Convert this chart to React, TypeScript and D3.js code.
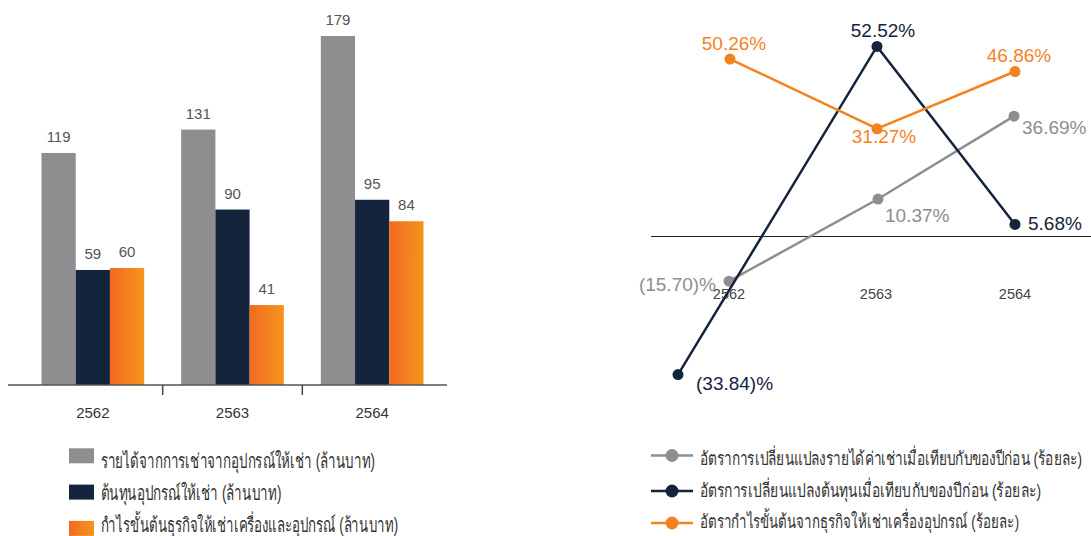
import * as d3 from "d3";
import { useEffect, useRef } from "react";

const years = ["2562", "2563", "2564"];
const barSeries = [
  "รายได้จากการเช่าจากอุปกรณ์ให้เช่า (ล้านบาท)",
  "ต้นทุนอุปกรณ์ให้เช่า (ล้านบาท)",
  "กำไรขั้นต้นธุรกิจให้เช่าเครื่องและอุปกรณ์ (ล้านบาท)",
];
const revenue = [119, 131, 179];
const cost = [59, 90, 95];
const grossProfit = [60, 41, 84];

const lineSeries = [
  "อัตราการเปลี่ยนแปลงรายได้ค่าเช่าเมื่อเทียบกับของปีก่อน (ร้อยละ)",
  "อัตรการเปลี่ยนแปลงต้นทุนเมื่อเทียบกับของปีก่อน (ร้อยละ)",
  "อัตรากำไรขั้นต้นจากธุรกิจให้เช่าเครื่องอุปกรณ์ (ร้อยละ)",
];
const revenueChange = [-15.7, 10.37, 36.69];
const costChange = [-33.84, 52.52, 5.68];
const grossMargin = [50.26, 31.27, 46.86];

const GRAY = "#8e8e90";
const NAVY = "#14243d";
const ORANGE = "#f5821f";
const FONT = "Liberation Sans, Arial, sans-serif";

const fmtPct = (v: number) =>
  v < 0 ? `(${Math.abs(v).toFixed(2)})%` : `${v.toFixed(2)}%`;

// squeeze a text horizontally so it spans `width` px
function fitText(
  sel: d3.Selection<SVGTextElement, any, any, any>,
  x: number,
  y: (i: number) => number,
  widths: number[]
) {
  sel.each(function (_, i) {
    const w = this.getComputedTextLength() || widths[i];
    d3.select(this).attr(
      "transform",
      `translate(${x},${y(i)}) scale(${widths[i] / w},1)`
    );
  });
}

export default function App() {
  const ref = useRef<SVGSVGElement | null>(null);

  useEffect(() => {
    if (!ref.current) return;
    const svg = d3.select(ref.current);
    svg.selectAll("*").remove();

    const defs = svg.append("defs");
    const grad = defs
      .append("linearGradient")
      .attr("id", "orangeGrad")
      .attr("x1", "0%")
      .attr("x2", "100%");
    grad.append("stop").attr("offset", "0%").attr("stop-color", "#f06a21");
    grad.append("stop").attr("offset", "100%").attr("stop-color", "#f7941d");

    // ---------- bar chart ----------
    const barColors = [GRAY, NAVY, "url(#orangeGrad)"];
    const barData = years.map((y, i) => ({
      year: y,
      values: [revenue[i], cost[i], grossProfit[i]],
    }));

    const x0 = d3.scaleBand().domain(years).range([23, 442]);
    const x1 = d3
      .scaleBand()
      .domain(["0", "1", "2"])
      .range([0, x0.bandwidth()])
      .paddingOuter(0.54);
    const yb = d3.scaleLinear().domain([0, 179]).range([385, 36]);

    const groups = svg
      .append("g")
      .selectAll("g")
      .data(barData)
      .join("g")
      .attr("transform", (d) => `translate(${x0(d.year)},0)`);

    groups
      .selectAll("rect")
      .data((d) => d.values)
      .join("rect")
      .attr("x", (_, i) => x1(String(i))!)
      .attr("y", (d) => yb(d))
      .attr("width", x1.bandwidth())
      .attr("height", (d) => yb(0) - yb(d))
      .attr("fill", (_, i) => barColors[i]);

    groups
      .selectAll("text")
      .data((d) => d.values)
      .join("text")
      .attr("x", (_, i) => x1(String(i))! + x1.bandwidth() / 2)
      .attr("y", (d) => yb(d) - 11)
      .attr("text-anchor", "middle")
      .attr("font-family", FONT)
      .attr("font-size", 15)
      .attr("fill", "#555")
      .text((d) => d);

    // axis
    svg
      .append("line")
      .attr("x1", 8)
      .attr("x2", 447)
      .attr("y1", 385)
      .attr("y2", 385)
      .attr("stroke", "#555")
      .attr("stroke-width", 1.5);
    svg
      .append("g")
      .selectAll("line")
      .data(years.slice(1))
      .join("line")
      .attr("x1", (d) => x0(d)!)
      .attr("x2", (d) => x0(d)!)
      .attr("y1", 385)
      .attr("y2", 395)
      .attr("stroke", "#444")
      .attr("stroke-width", 1.5);
    svg
      .append("g")
      .selectAll("text")
      .data(years)
      .join("text")
      .attr("x", (d) => x0(d)! + x0.bandwidth() / 2)
      .attr("y", 418)
      .attr("text-anchor", "middle")
      .attr("font-family", FONT)
      .attr("font-size", 15)
      .attr("fill", "#333")
      .text((d) => d);

    // bar legend
    const barLegendWidths = [273, 181, 298];
    const bl = svg.append("g");
    bl.selectAll("rect")
      .data(barSeries)
      .join("rect")
      .attr("x", 69)
      .attr("y", (_, i) => 448.3 + i * 36.3)
      .attr("width", 25)
      .attr("height", 15)
      .attr("fill", (_, i) => barColors[i]);
    const blText = bl
      .selectAll("text")
      .data(barSeries)
      .join("text")
      .attr("font-family", FONT)
      .attr("font-size", 20)
      .attr("fill", "#333")
      .text((d) => d);
    fitText(blText as any, 100.5, (i) => 467.5 + i * 32, barLegendWidths);

    // ---------- line chart ----------
    // each series sits on its own x/y mapping, as in the source graphic
    const makeX = (r: number[]) =>
      d3.scaleLinear().domain([0, 1, 2]).range(r);
    const makeY = (zero: number, perUnit: number) =>
      d3
        .scaleLinear()
        .domain([-40, 60])
        .range([zero + 40 * perUnit, zero - 60 * perUnit]);

    const zeroY = 236.5;
    svg
      .append("line")
      .attr("x1", 651)
      .attr("x2", 1091)
      .attr("y1", zeroY)
      .attr("y2", zeroY)
      .attr("stroke", "#222")
      .attr("stroke-width", 1.2);

    const xCat = makeX([729, 876, 1015]);
    svg
      .append("g")
      .selectAll("text")
      .data(years)
      .join("text")
      .attr("x", (_, i) => xCat(i))
      .attr("y", 299)
      .attr("text-anchor", "middle")
      .attr("font-family", FONT)
      .attr("font-size", 14.5)
      .attr("fill", "#444")
      .text((d) => d);

    const lines = [
      {
        name: lineSeries[0],
        color: GRAY,
        values: revenueChange,
        x: makeX([729, 878, 1014]),
        y: makeY(231.7, 3.15),
        // [dx, dy, anchor] per point
        labels: [
          [-13, 10, "end"],
          [7, 23, "start"],
          [8, 18, "start"],
        ],
      },
      {
        name: lineSeries[1],
        color: NAVY,
        values: costChange,
        x: makeX([678, 877, 1015]),
        y: makeY(246, 3.8),
        labels: [
          [18, 15, "start"],
          [6, -9, "middle"],
          [13, 6, "start"],
        ],
      },
      {
        name: lineSeries[2],
        color: ORANGE,
        values: grossMargin,
        x: makeX([730, 877, 1015]),
        y: makeY(243.5, 3.67),
        labels: [
          [4, -9, "middle"],
          [7, 14, "middle"],
          [4, -10, "middle"],
        ],
      },
    ];

    lines.forEach((s) => {
      const g = svg.append("g");
      const line = d3
        .line<number>()
        .x((_, i) => s.x(i))
        .y((d) => s.y(d));
      g.append("path")
        .attr("d", line(s.values)!)
        .attr("fill", "none")
        .attr("stroke", s.color)
        .attr("stroke-width", 2.5);
      g.selectAll("circle")
        .data(s.values)
        .join("circle")
        .attr("cx", (_, i) => s.x(i))
        .attr("cy", (d) => s.y(d))
        .attr("r", 5.5)
        .attr("fill", s.color);
      g.selectAll("text")
        .data(s.values)
        .join("text")
        .attr("x", (_, i) => s.x(i) + (s.labels[i][0] as number))
        .attr("y", (d, i) => s.y(d) + (s.labels[i][1] as number))
        .attr("text-anchor", (_, i) => s.labels[i][2] as string)
        .attr("font-family", FONT)
        .attr("font-size", 19)
        .attr("fill", s.color)
        .text((d) => fmtPct(d));
    });

    // line legend
    const lineLegendWidths = [383, 338, 318];
    const markerY = [455.5, 491, 523];
    const textY = [465, 497, 527.5];
    const ll = svg.append("g");
    const items = ll
      .selectAll("g")
      .data(lines)
      .join("g")
      .attr("transform", (_, i) => `translate(651,${markerY[i]})`);
    items
      .append("line")
      .attr("x1", 0)
      .attr("x2", 42)
      .attr("stroke", (d) => d.color)
      .attr("stroke-width", 2.5);
    items
      .append("circle")
      .attr("cx", 21)
      .attr("r", 6.5)
      .attr("fill", (d) => d.color);
    const llText = ll
      .selectAll("text")
      .data(lines)
      .join("text")
      .attr("font-family", FONT)
      .attr("font-size", 19)
      .attr("fill", "#333")
      .text((d) => d.name);
    fitText(llText as any, 699.5, (i) => textY[i], lineLegendWidths);
  }, []);

  return (
    <svg
      ref={ref}
      width={1091}
      height={536}
      style={{ position: "absolute", left: 0, top: 0, background: "#fff" }}
    />
  );
}
